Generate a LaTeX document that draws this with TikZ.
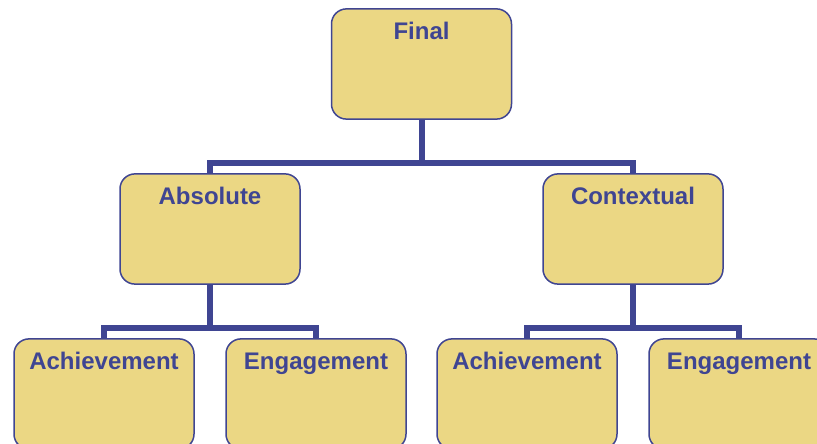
\documentclass[tikz,border=0pt]{standalone}
\usepackage{fontspec}
\setmainfont{Liberation Sans}
\definecolor{navy}{HTML}{3F4592}
\definecolor{sand}{HTML}{EBD784}
\begin{document}
\begin{tikzpicture}[x=1pt,y=1pt]
\tikzstyle{box}=[rectangle,rounded corners=15pt,draw=navy,line width=1.5pt,fill=sand,
  minimum width=180pt,text height=17.2pt,text depth=67pt,inner ysep=13pt,
  text=navy,font=\fontsize{24}{28}\selectfont\bfseries]
\tikzstyle{link}=[draw=navy,line width=6pt]

\clip (0,0) rectangle (817,444);
\useasboundingbox (0,0) rectangle (817,444);

\node[box] (final) at (421.5,380) {Final};

\node[box] (absolute) at (210,215) {Absolute};
\node[box] (contextual) at (633,215) {Contextual};

\node[box] (absach) at (104,50) {Achievement};
\node[box] (abseng) at (316,50) {Engagement};
\node[box] (conach) at (527,50) {Achievement};
\node[box] (coneng) at (739,50) {Engagement};

\coordinate (fork1) at (421.5,281);
\coordinate (fork2) at (210,116);
\coordinate (fork3) at (633,116);

\draw[link] (final.south) -- (fork1);
\draw[link] (absolute.north) |- (fork1) -| (contextual.north);

\draw[link] (absolute.south) -- (fork2);
\draw[link] (absach.north) |- (fork2) -| (abseng.north);

\draw[link] (contextual.south) -- (fork3);
\draw[link] (conach.north) |- (fork3) -| (coneng.north);

\end{tikzpicture}
\end{document}
